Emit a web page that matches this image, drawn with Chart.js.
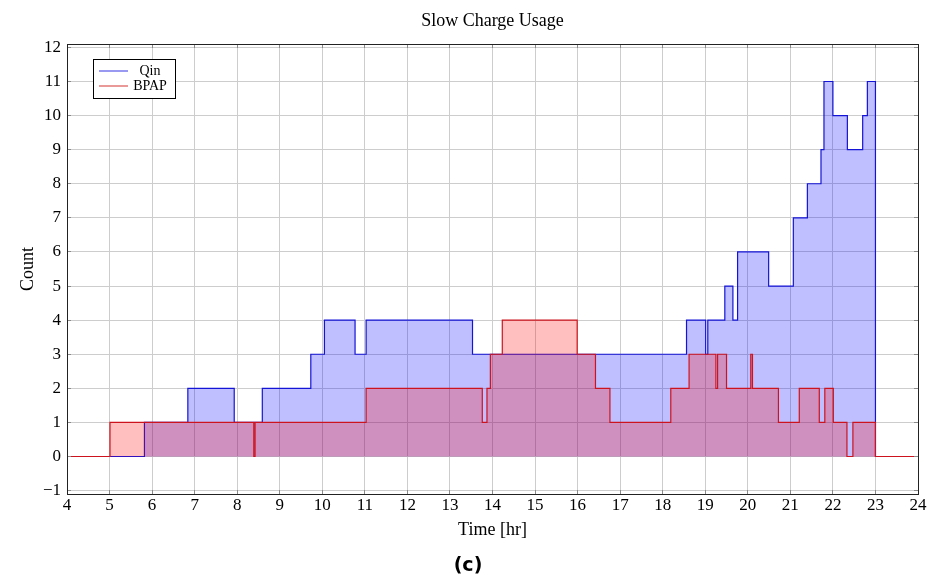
<!DOCTYPE html>
<html>
<head>
<meta charset="utf-8">
<script src="https://cdn.jsdelivr.net/npm/chart.js@4"></script>
<style>
html,body{margin:0;padding:0;background:#fff;}
#wrap{width:936px;height:583px;}
</style>
</head>
<body>
<div id="wrap"><canvas id="c" width="936" height="583"></canvas></div>
<script>
// ---- data ----
const chartTitle = 'Slow Charge Usage';
const figureLabel = '(c)';
const xTitle = 'Time [hr]';
const yTitle = 'Count';
const seriesNames = ['Qin', 'BPAP'];
const xTicks = [4,5,6,7,8,9,10,11,12,13,14,15,16,17,18,19,20,21,22,23,24];
const yTicks = [-1,0,1,2,3,4,5,6,7,8,9,10,11,12];

// each pair: time at which the count changes, and the new count
const qinTimes  = [4, 5.82, 6.84, 7.93, 8.59, 9.73, 10.05, 10.77, 11.03, 13.53, 18.56, 19.01, 19.06, 19.46, 19.65, 19.76, 20.49, 21.07, 21.40, 21.72, 21.79, 22.00, 22.34, 22.70, 22.81, 23.00, 24];
const qinCounts = [0, 1,    2,    1,    2,    3,    4,     3,     4,     3,     4,     3,     4,     5,     4,     6,     5,     7,     8,     9,     11,    10,    9,     10,    11,    0,     0];

const bpapTimes  = [4, 5.01, 8.39, 8.42, 11.03, 13.76, 13.87, 13.95, 14.23, 15.99, 16.42, 16.76, 18.19, 18.62, 19.25, 19.29, 19.50, 20.07, 20.11, 20.72, 21.21, 21.68, 21.81, 22.01, 22.33, 22.47, 23.00, 24];
const bpapCounts = [0, 1,    0,    1,    2,     1,     2,     3,     4,     3,     2,     1,     2,     3,     2,     3,     2,     3,     2,     1,     2,     1,     2,     1,     0,     1,     0,     0];

// ---- styles ----
const qinLine = 'rgb(20,20,215)';
const qinFill = 'rgba(0,0,255,0.25)';
const qinLegend = 'rgb(110,110,235)';
const bpapLine = 'rgb(205,20,30)';
const bpapFill = 'rgba(255,0,0,0.25)';
const bpapLegend = 'rgb(225,110,110)';
const gridColor = '#cdcdcd';

const toPoints = (ts, vs) => ts.map((t, i) => ({x: t, y: vs[i]}));

Chart.defaults.font.family = "'Liberation Serif', 'Times New Roman', serif";
Chart.defaults.color = '#000';

const alignPx = p => Math.round(p - 0.5) + 0.5;

const framePlugin = {
  id: 'frame',
  afterDatasetsDraw(chart) {
    const {ctx, chartArea: a, scales} = chart;
    const x = scales.x, y = scales.y;
    const L = 4;
    ctx.save();
    ctx.lineWidth = 1;
    ctx.strokeStyle = '#8a8a8a';
    ctx.beginPath();
    xTicks.forEach(v => {
      const px = alignPx(x.getPixelForValue(v));
      ctx.moveTo(px, a.bottom); ctx.lineTo(px, a.bottom - L);
      ctx.moveTo(px, a.top); ctx.lineTo(px, a.top + L);
    });
    yTicks.forEach(v => {
      const py = alignPx(y.getPixelForValue(v));
      ctx.moveTo(a.left, py); ctx.lineTo(a.left + L, py);
      ctx.moveTo(a.right, py); ctx.lineTo(a.right - L, py);
    });
    ctx.stroke();
    ctx.strokeStyle = '#222';
    const l = alignPx(a.left), t = alignPx(a.top), r = alignPx(a.right), b = alignPx(a.bottom);
    ctx.strokeRect(l, t, r - l, b - t);
    ctx.restore();
  }
};

const legendBoxPlugin = {
  id: 'legendBox',
  afterDraw(chart) {
    const {ctx, chartArea: a} = chart;
    const bx = Math.round(a.left) + 26, by = Math.round(a.top) + 15, bw = 82, bh = 39;
    ctx.save();
    ctx.fillStyle = '#fff';
    ctx.fillRect(bx, by, bw, bh);
    ctx.strokeStyle = '#000';
    ctx.lineWidth = 1;
    ctx.strokeRect(bx + 0.5, by + 0.5, bw, bh);
    const colors = [qinLegend, bpapLegend];
    seriesNames.forEach((name, i) => {
      const cy = by + 12 + i * 15;
      ctx.strokeStyle = colors[i];
      ctx.lineWidth = 1.4;
      ctx.beginPath();
      ctx.moveTo(bx + 6, cy);
      ctx.lineTo(bx + 35, cy);
      ctx.stroke();
      ctx.fillStyle = '#000';
      ctx.font = "14px 'Liberation Serif', serif";
      ctx.textAlign = 'center';
      ctx.textBaseline = 'middle';
      ctx.fillText(name, bx + 57, cy);
    });
    ctx.restore();
  }
};

new Chart(document.getElementById('c'), {
  type: 'line',
  data: {
    datasets: [
      {
        label: seriesNames[0],
        data: toPoints(qinTimes, qinCounts),
        borderColor: qinLine,
        backgroundColor: qinFill,
        borderWidth: 1.2,
        fill: 'origin',
        stepped: 'before',
        pointRadius: 0,
        order: 2
      },
      {
        label: seriesNames[1],
        data: toPoints(bpapTimes, bpapCounts),
        borderColor: bpapLine,
        backgroundColor: bpapFill,
        borderWidth: 1.2,
        fill: 'origin',
        stepped: 'before',
        pointRadius: 0,
        order: 1
      }
    ]
  },
  options: {
    responsive: false,
    animation: false,
    devicePixelRatio: 1,
    parsing: true,
    layout: {padding: {left: 0, right: 0, top: 0, bottom: 0}},
    scales: {
      x: {
        type: 'linear',
        position: 'bottom',
        min: 4,
        max: 24,
        afterBuildTicks: s => { s.ticks = xTicks.map(v => ({value: v})); },
        afterFit: s => { s.height = 47; },
        grid: {color: gridColor, lineWidth: 1, drawTicks: false},
        border: {display: false},
        ticks: {padding: 1, font: {size: 17}, color: '#000', maxRotation: 0, autoSkip: false},
        title: {display: true, text: xTitle, font: {size: 18}, color: '#000', padding: {top: 0, bottom: 0}}
      },
      y: {
        type: 'linear',
        position: 'left',
        min: -1.1,
        max: 12.1,
        afterBuildTicks: s => { s.ticks = yTicks.map(v => ({value: v})); },
        afterFit: s => { s.width = 67; },
        grid: {color: gridColor, lineWidth: 1, drawTicks: false},
        border: {display: false},
        ticks: {
          padding: 6, font: {size: 17}, color: '#000', autoSkip: false,
          callback: v => (v < 0 ? '\u2212' + Math.abs(v) : String(v))
        },
        title: {display: true, text: yTitle, font: {size: 18}, color: '#000', padding: {top: 17, bottom: 0}}
      },
      y2: {
        type: 'linear',
        position: 'right',
        display: true,
        grid: {display: false},
        border: {display: false},
        ticks: {display: false},
        afterFit: s => { s.width = 18; }
      }
    },
    plugins: {
      legend: {display: false},
      tooltip: {enabled: false},
      title: {
        display: true, text: chartTitle, fullSize: false,
        font: {size: 18, weight: 'normal'}, color: '#000',
        padding: {top: 10, bottom: 12.4}
      },
      subtitle: {
        display: true, text: figureLabel, position: 'bottom', fullSize: true,
        font: {family: "'DejaVu Sans', sans-serif", size: 19, weight: 'bold'}, color: '#000',
        padding: {top: 13.6, bottom: 5.6}
      }
    }
  },
  plugins: [framePlugin, legendBoxPlugin]
});
</script>
</body>
</html>
